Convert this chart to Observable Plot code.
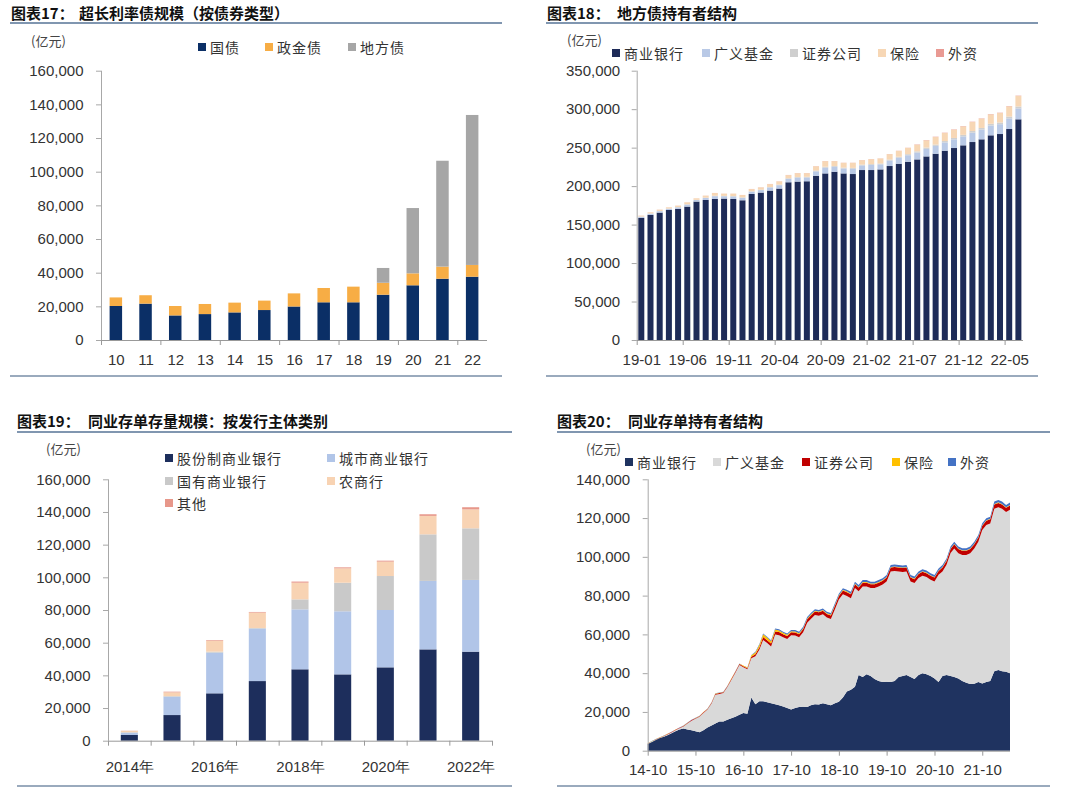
<!DOCTYPE html>
<html><head><meta charset="utf-8">
<script src="https://cdn.jsdelivr.net/npm/d3@7"></script>
<script src="https://cdn.jsdelivr.net/npm/@observablehq/plot@0.6"></script>
<style>
html,body{margin:0;padding:0;background:#fff;}
body{width:1080px;height:812px;position:relative;overflow:hidden;font-family:"Liberation Sans",Arial,sans-serif;}
.abs{position:absolute;}
.title{position:absolute;font-family:"Noto Sans CJK SC",sans-serif;font-weight:bold;font-size:15px;line-height:18px;color:#111;white-space:nowrap;}
.rule{position:absolute;background:#8096b0;}
.unit{position:absolute;font-family:"Noto Sans CJK SC",sans-serif;font-size:13px;line-height:16px;color:#444;white-space:nowrap;}
.leg{position:absolute;display:flex;align-items:center;height:20px;font-family:"Noto Sans CJK SC",sans-serif;font-size:14px;letter-spacing:1px;color:#333;white-space:nowrap;}
.sw{display:inline-block;width:8px;height:8px;margin-right:4px;}
</style>
</head><body>
<script>
// ---------------- Chart 17 data ----------------
const c17Years = ["10","11","12","13","14","15","16","17","18","19","20","21","22"];
const c17Gov = [20200, 21600, 14600, 15400, 16400, 17800, 19900, 22400, 22400, 26900, 32500, 36400, 37600];
const c17Policy = [5100, 5000, 5600, 6000, 5800, 5600, 7800, 8500, 9300, 7100, 7100, 7200, 7000];
const c17Local = [0, 0, 0, 0, 0, 0, 0, 0, 0, 8800, 38800, 62900, 89100];
const c17Series = ["国债", "政金债", "地方债"];
const c17Colors = ["#0b2f66", "#f7ad45", "#a6a6a6"];

// ---------------- Chart 18 data ----------------
const c18TickLabels = ["19-01","19-06","19-11","20-04","20-09","21-02","21-07","21-12","22-05"];
const c18Bank = [158700,162600,165600,169000,170400,173400,179900,182000,183300,183800,183300,181600,189800,191600,194200,196800,205000,205900,206300,213400,216500,218700,216500,215700,220900,220900,221700,226100,229100,231700,234700,238600,242100,246000,249500,253000,257300,260800,266000,267700,274200,286800];
const c18Fund = [1400,1600,1800,1600,2000,2600,2000,2600,3600,3000,3200,3200,3000,3200,4000,4400,4400,5100,4900,5800,7400,6400,6400,6800,6000,6600,6600,7200,7800,8400,9000,9800,10200,10800,11200,11600,12200,12600,12800,12800,13800,14200];
const c18Sec = [300,300,300,300,400,400,300,400,600,500,600,600,500,600,700,800,800,900,900,1000,1300,1100,1100,1200,1000,1100,1100,1200,1300,1400,1500,1700,1700,1800,1900,2000,2100,2200,2200,2200,2400,2500];
const c18Ins = [1200,1400,1700,1500,1800,2500,1900,2600,3500,2900,3100,3000,2800,2900,3700,4100,4100,4900,4700,5600,7200,6200,6200,6500,5800,6400,6500,7000,7600,8200,8600,9400,9800,10400,10800,11100,11700,12100,12300,12300,13300,13700];
const c18Foreign = [100,100,100,100,100,100,100,100,100,100,100,100,200,200,200,200,200,200,200,200,200,200,200,200,200,200,200,200,200,200,400,400,400,400,400,400,400,400,400,400,400,400];
const c18Series = ["商业银行","广义基金","证券公司","保险","外资"];
const c18Colors = ["#1e2b58","#b9c9e6","#cfcfcf","#f7d7b5","#e99a93"];

// ---------------- Chart 19 data ----------------
const c19Years = ["2014年","2015年","2016年","2017年","2018年","2019年","2020年","2021年","2022年"];
const c19TickLabels = ["2014年","2016年","2018年","2020年","2022年"];
const c19Joint = [3500, 15700, 29000, 36500, 43700, 40600, 44900, 55900, 54500];
const c19City = [1400, 11200, 24900, 32100, 36700, 38600, 35100, 41900, 43900];
const c19State = [300, 400, 600, 400, 6100, 17500, 20800, 28500, 31600];
const c19Rural = [800, 2300, 6700, 9400, 10200, 8800, 8800, 11300, 11600];
const c19Other = [100, 400, 400, 400, 700, 600, 600, 1000, 1300];
const c19Series = ["股份制商业银行","城市商业银行","国有商业银行","农商行","其他"];
const c19Colors = ["#1d2e5c","#b1c5e8","#c9c9c9","#f8d3b3","#e7978a"];

// ---------------- Chart 20 data (monthly, 2014-10 .. 2022-05) ----------------
const c20Bank = [3500,4500,5500,
 6500,7200,8000,9000,10000,11000,11500,11000,10500,10000,9500,10500,
 12000,13000,14000,15000,15000,16000,16700,17500,18500,19500,19000,27500,
 24000,25500,25500,25000,24500,24000,23500,22800,22000,21300,22000,22500,
 22700,22500,23500,24000,23800,24500,24000,23500,24500,25300,27500,30500,
 31500,33000,39000,38000,39500,38500,37000,36000,35500,35600,35500,36000,
 38000,38500,39000,38000,37000,39000,40000,39500,38500,37300,35500,38500,
 39000,38500,38000,37300,36000,35000,34400,34500,35500,34700,35500,36000,
 41000,41600,41000,40700,40000];
const c20Fund = [100,200,200,
 200,300,400,400,600,600,1000,3000,5000,6500,8000,9000,
 9200,11400,14900,14300,14700,16800,19800,22700,25700,23500,23000,20200,
 24700,26700,31600,30500,29300,35900,36100,35700,35600,38200,37400,36000,
 38400,43500,44500,46000,45800,45900,44700,44500,48500,52700,53200,49300,
 47200,50900,43200,46700,45200,45400,46900,48700,50200,51700,57000,56700,
 54500,53700,53500,49300,49500,50100,50300,50100,49700,50000,55200,54000,
 56900,63500,66300,64500,64900,65900,67400,69800,72300,79100,80900,81200,
 83800,84000,83800,82400,84300];
const c20Sec = [100,100,100,
 100,100,200,200,200,200,300,300,300,300,300,300,
 300,300,400,400,400,400,500,500,500,500,500,800,
 1000,1200,1500,1500,1500,1600,1600,1600,1600,1600,1600,1600,
 1700,1800,1800,1800,1800,1800,1800,1800,1800,1800,1900,2000,
 2000,2000,2000,2000,2000,2000,2000,2000,2000,2000,2000,2000,
 2000,2000,2000,2000,2000,2000,2000,2000,2000,2000,2000,2000,
 2000,2000,2200,2200,2200,2200,2200,2200,2200,2200,2200,2200,
 2200,2200,2200,2200,2200];
const c20Ins = [100,100,100,
 100,100,100,100,100,100,100,100,100,100,100,100,
 200,200,200,200,200,200,200,200,200,400,400,800,
 1000,1300,1500,1400,1200,1000,800,700,600,500,500,500,
 400,400,400,400,400,400,400,400,400,400,400,400,
 300,300,300,300,300,300,300,300,300,300,300,300,
 300,300,300,300,300,300,300,300,300,300,300,300,
 300,300,300,300,300,300,300,300,300,300,300,300,
 300,300,300,300,300];
const c20Foreign = [100,100,100,
 100,100,100,100,100,100,100,100,100,100,100,100,
 100,100,100,100,100,100,100,100,100,100,100,100,
 300,300,400,400,500,500,600,600,700,700,800,800,
 800,800,800,800,800,800,800,800,800,800,800,800,
 1000,1000,1000,1000,1000,1000,1000,1000,1000,1000,1000,1000,
 1000,1000,1000,1000,1000,1000,1000,1000,1000,1000,1000,1000,
 1000,1000,1000,1000,1000,1000,1000,1000,1000,1000,1000,1000,
 1200,1200,1200,1200,1200];
const c20Series = ["商业银行","广义基金","证券公司","保险","外资"];
const c20Colors = ["#1f3360","#d9d9d9","#c00000","#ffc000","#4472c4"];
const c20Start = new Date(Date.UTC(2014, 9, 1));
const c20TickYears = [2014,2015,2016,2017,2018,2019,2020,2021];

// ---------------- helpers ----------------
const baseStyle = {fontFamily: '"Liberation Sans", Arial, sans-serif', fontSize: "15px", color: "#333", background: "transparent", overflow: "visible"};
const fmt = d3.format(",");
function put(el, left, top) { el.style.position = "absolute"; el.style.left = left + "px"; el.style.top = top + "px"; document.body.appendChild(el); return el; }
function div(cls, html) { const d = document.createElement("div"); d.className = cls; d.innerHTML = html; return d; }
function title(x1, x2, y, a, b) { put(div("title", a), x1, y); put(div("title", b), x2, y); }
function rule(x, y, w, h, color) { const r = put(div("rule", ""), x, y); r.style.width = w + "px"; r.style.height = h + "px"; if (color) r.style.background = color; }
function legend(items, colors, xs, ys) {
  items.forEach((name, k) => {
    put(div("leg", `<span class="sw" style="background:${colors[k]}"></span>${name}`), xs[k], ys[k] - 10);
  });
}
function rowsFrom(series, arrays) {
  const rows = [];
  arrays[0].forEach((_, i) => series.forEach((s, k) => rows.push({i, s, v: arrays[k][i]})));
  return rows;
}

// ---------------- Panel 17 ----------------
title(11, 79, 4, "图表17：", "超长利率债规模（按债券类型）");
rule(10, 22, 492, 2);
rule(10, 375, 492, 1.5, "#9aaabd");
put(div("unit", "(亿元)"), 31, 33);
legend(c17Series, c17Colors, [198, 265, 348], [47, 47, 47]);
{
  const rows = rowsFrom(c17Series, [c17Gov, c17Policy, c17Local]);
  const p = Plot.plot({
    width: 540, height: 320, marginLeft: 101, marginRight: 53, marginTop: 10.7, marginBottom: 40,
    style: baseStyle,
    x: {type: "linear", domain: [0, c17Years.length], label: null},
    y: {domain: [0, 160000], label: null},
    color: {domain: c17Series, range: c17Colors},
    marks: [
      Plot.rectY(rows, {x: "i", interval: 1, y: "v", fill: "s", order: c17Series, insetLeft: 8.6, insetRight: 8.6}),
      Plot.ruleX([0], {stroke: "#a8a8a8"}),
      Plot.ruleY([0], {stroke: "#999"}),
      Plot.axisY({ticks: d3.range(0, 160001, 20000), tickFormat: fmt, tickSize: 5, tickPadding: 13, stroke: "#a8a8a8"}),
      Plot.axisX({ticks: d3.range(0, c17Years.length + 1, 2), tickSize: 5, tickFormat: () => "", stroke: "#999"}),
      Plot.axisX({ticks: c17Years.map((_, i) => i + 0.5), tickSize: 0, tickPadding: 14, tickFormat: t => c17Years[Math.floor(t)]})
    ]
  });
  put(p, 0, 60);
}

// ---------------- Panel 18 ----------------
title(547, 617, 4, "图表18：", "地方债持有者结构");
rule(546, 22, 492, 2);
rule(546, 375, 492, 1.5, "#9aaabd");
put(div("unit", "(亿元)"), 567, 32);
legend(c18Series, c18Colors, [612, 702, 790, 878, 936], [53, 53, 53, 53, 53]);
{
  const rows = rowsFrom(c18Series, [c18Bank, c18Fund, c18Sec, c18Ins, c18Foreign]);
  const n = c18Bank.length;
  const p = Plot.plot({
    width: 540, height: 320, marginLeft: 96.7, marginRight: 57, marginTop: 10.7, marginBottom: 40,
    style: baseStyle,
    x: {type: "linear", domain: [0, n], label: null},
    y: {domain: [0, 350000], label: null},
    color: {domain: c18Series, range: c18Colors},
    marks: [
      Plot.rectY(rows, {x: "i", interval: 1, y: "v", fill: "s", order: c18Series, insetLeft: 1.6, insetRight: 1.6}),
      Plot.ruleX([0], {stroke: "#a8a8a8"}),
      Plot.ruleY([0], {stroke: "#999"}),
      Plot.axisY({ticks: d3.range(0, 350001, 50000), tickFormat: fmt, tickSize: 5, tickPadding: 12, stroke: "#a8a8a8"}),
      Plot.axisX({ticks: d3.range(0, n, 5), tickSize: 5, tickFormat: () => "", stroke: "#999"}),
      Plot.axisX({ticks: c18TickLabels.map((_, k) => k * 5 + 0.5), tickSize: 0, tickPadding: 14, tickFormat: t => c18TickLabels[Math.floor(t / 5)]})
    ]
  });
  put(p, 540, 60);
}

// ---------------- Panel 19 ----------------
title(17, 88, 412, "图表19：", "同业存单存量规模：按发行主体类别");
rule(17, 431, 495, 2);
rule(17, 785, 495, 1.5, "#9aaabd");
put(div("unit", "(亿元)"), 46, 441);
legend(c19Series, c19Colors, [165, 327, 165, 327, 165], [458, 458, 481, 481, 503]);
{
  const rows = rowsFrom(c19Series, [c19Joint, c19City, c19State, c19Rural, c19Other]);
  const n = c19Years.length;
  const p = Plot.plot({
    width: 540, height: 310, marginLeft: 108, marginRight: 48, marginTop: 9.3, marginBottom: 39.3,
    style: baseStyle,
    x: {type: "linear", domain: [0, n], label: null},
    y: {domain: [0, 160000], label: null},
    color: {domain: c19Series, range: c19Colors},
    marks: [
      Plot.rectY(rows, {x: "i", interval: 1, y: "v", fill: "s", order: c19Series, insetLeft: 12.8, insetRight: 12.8}),
      Plot.ruleX([0], {stroke: "#a8a8a8"}),
      Plot.ruleY([0], {stroke: "#999"}),
      Plot.axisY({ticks: d3.range(0, 160001, 20000), tickFormat: fmt, tickSize: 5, tickPadding: 13, stroke: "#a8a8a8"}),
      Plot.axisX({ticks: d3.range(0, n + 1, 1), tickSize: 5, tickFormat: () => "", stroke: "#999"}),
      Plot.axisX({ticks: c19TickLabels.map((_, k) => k * 2 + 0.5), tickSize: 0, tickPadding: 20, tickFormat: t => c19TickLabels[Math.floor(t / 2)]})
    ]
  });
  put(p, 0, 470);
}

// ---------------- Panel 20 ----------------
title(557, 628, 412, "图表20：", "同业存单持有者结构");
rule(557, 431, 493, 2);
rule(557, 785, 493, 1.5, "#9aaabd");
put(div("unit", "(亿元)"), 586, 441);
legend(c20Series, c20Colors, [625, 713, 802, 892, 948], [462, 462, 462, 462, 462]);
{
  const months = d3.utcMonth.range(c20Start, d3.utcMonth.offset(c20Start, c20Bank.length));
  const arrays = [c20Bank, c20Fund, c20Sec, c20Ins, c20Foreign];
  const rows = [];
  c20Series.forEach((s, k) => months.forEach((d, i) => rows.push({d, s, v: arrays[k][i]})));
  const ticks = c20TickYears.map(y => new Date(Date.UTC(y, 9, 1)));
  const p = Plot.plot({
    width: 540, height: 310, marginLeft: 107.7, marginRight: 70, marginTop: 9.3, marginBottom: 29.3,
    style: baseStyle,
    x: {type: "utc", domain: [months[0], months[months.length - 1]], label: null},
    y: {domain: [0, 140000], label: null},
    color: {domain: c20Series, range: c20Colors},
    marks: [
      Plot.areaY(rows, {x: "d", y: "v", fill: "s", z: "s", order: c20Series}),
      Plot.ruleX([months[0]], {stroke: "#a8a8a8"}),
      Plot.ruleY([0], {stroke: "#999"}),
      Plot.axisY({ticks: d3.range(0, 140001, 20000), tickFormat: fmt, tickSize: 5, tickPadding: 13, stroke: "#a8a8a8"}),
      Plot.axisX({ticks, tickSize: 5, tickPadding: 8, tickFormat: d3.utcFormat("%y-%m"), stroke: "#999"})
    ]
  });
  put(p, 540, 470);
}
</script>
</body></html>
